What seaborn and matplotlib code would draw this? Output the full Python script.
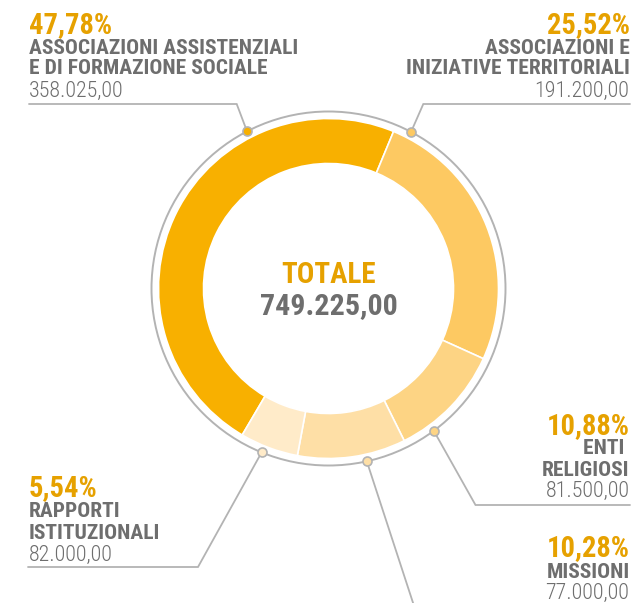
import numpy as np
import matplotlib
matplotlib.use("Agg")
import matplotlib.pyplot as plt
from matplotlib import font_manager
import seaborn as sns

# --- data ---
categories = [
    "ASSOCIAZIONI ASSISTENZIALI\nE DI FORMAZIONE SOCIALE",
    "ASSOCIAZIONI E\nINIZIATIVE TERRITORIALI",
    "ENTI \nRELIGIOSI",
    "MISSIONI",
    "RAPPORTI\nISTITUZIONALI",
]
percent = [47.78, 25.52, 10.88, 10.28, 5.54]
amounts = ["358.025,00", "191.200,00", "81.500,00", "77.000,00", "82.000,00"]
total_label = "749.225,00"

W, H = 633, 603
CX, CY = 328.5, 288.5          # centre in image pixels (y down)
R_OUT, R_IN, R_RING = 170, 125, 177

wedge_colors = sns.color_palette(["#F8B000", "#FDC962", "#FDD484", "#FEDFA6", "#FFEBC9"])
ORANGE = "#E6A100"
GREY = "#6E6E6E"
LINE = "#B3B3B3"

names = {f.name for f in font_manager.fontManager.ttflist}
COND = "Roboto Condensed" if "Roboto Condensed" in names else "DejaVu Sans"

sns.set_style("white")
plt.rcParams["font.family"] = [COND, "DejaVu Sans"]


def yy(y):
    return H - y


def pt(px):
    return px * 0.72


fig = plt.figure(figsize=(W / 100, H / 100), dpi=100)
ax = fig.add_axes([0, 0, 1, 1])

ax.pie(percent, radius=R_OUT, center=(CX, yy(CY)), startangle=-120.5,
       counterclock=False, colors=wedge_colors,
       wedgeprops=dict(width=R_OUT - R_IN, edgecolor="white", linewidth=1.2))

ax.add_patch(plt.Circle((CX, yy(CY)), R_RING, fill=False, ec=LINE, lw=1.4, zorder=3))

# label layout: dot angle (deg clockwise from 12 o'clock), connector path, text anchor
layout = [
    dict(ang=-27.4, path=[(236.7, 104), (29, 104)], x=29, ha="left",
         base=[33, 54, 74, 96.7]),
    dict(ang=27.8, path=[(423.3, 104), (630, 104)], x=629.5, ha="right",
         base=[33, 54, 74, 96.7]),
    dict(ang=143.5, path=[(475.5, 505), (630, 505)], x=629.5, ha="right",
         base=[434, 454.5, 476, 497]),
    dict(ang=167.5, path=[(417, 615)], x=629.5, ha="right",
         base=[556, 577.7, 599]),
    dict(ang=202.2, path=[(198, 567), (28, 567)], x=29, ha="left",
         base=[496, 517, 539, 560.5]),
]

for i, lay in enumerate(layout):
    a = np.deg2rad(lay["ang"])
    dx, dy = CX + R_RING * np.sin(a), CY - R_RING * np.cos(a)
    xs = [dx] + [p[0] for p in lay["path"]]
    ys = [dy] + [p[1] for p in lay["path"]]
    ax.plot(xs, [yy(v) for v in ys], color=LINE, lw=1.3, zorder=2, solid_joinstyle="miter")
    ax.scatter([dx], [yy(dy)], s=42, color=wedge_colors[i], edgecolors=LINE,
               linewidths=1.2, zorder=5)

    base = lay["base"]
    pct_txt = f"{percent[i]:.2f}".replace(".", ",") + "%"
    ax.text(lay["x"], yy(base[0]), pct_txt, ha=lay["ha"], va="baseline",
            fontsize=pt(28.5), fontweight="bold", color=ORANGE)
    lines = categories[i].split("\n")
    for j, ln in enumerate(lines):
        ax.text(lay["x"], yy(base[1 + j]), ln, ha=lay["ha"], va="baseline",
                fontsize=pt(21.5), fontweight="bold", color=GREY)
    ax.text(lay["x"], yy(base[1 + len(lines)]), amounts[i], ha=lay["ha"], va="baseline",
            fontsize=pt(22), fontweight="light", color=GREY)

ax.text(CX, yy(283), "TOTALE", ha="center", va="baseline", fontsize=pt(29),
        fontweight="bold", color=ORANGE)
ax.text(CX, yy(314), total_label, ha="center", va="baseline", fontsize=pt(30),
        fontweight="bold", color=GREY)

ax.set_xlim(0, W)
ax.set_ylim(0, H)
ax.set_aspect("equal")
ax.axis("off")

fig.savefig("out.png", dpi=100, facecolor="white")
